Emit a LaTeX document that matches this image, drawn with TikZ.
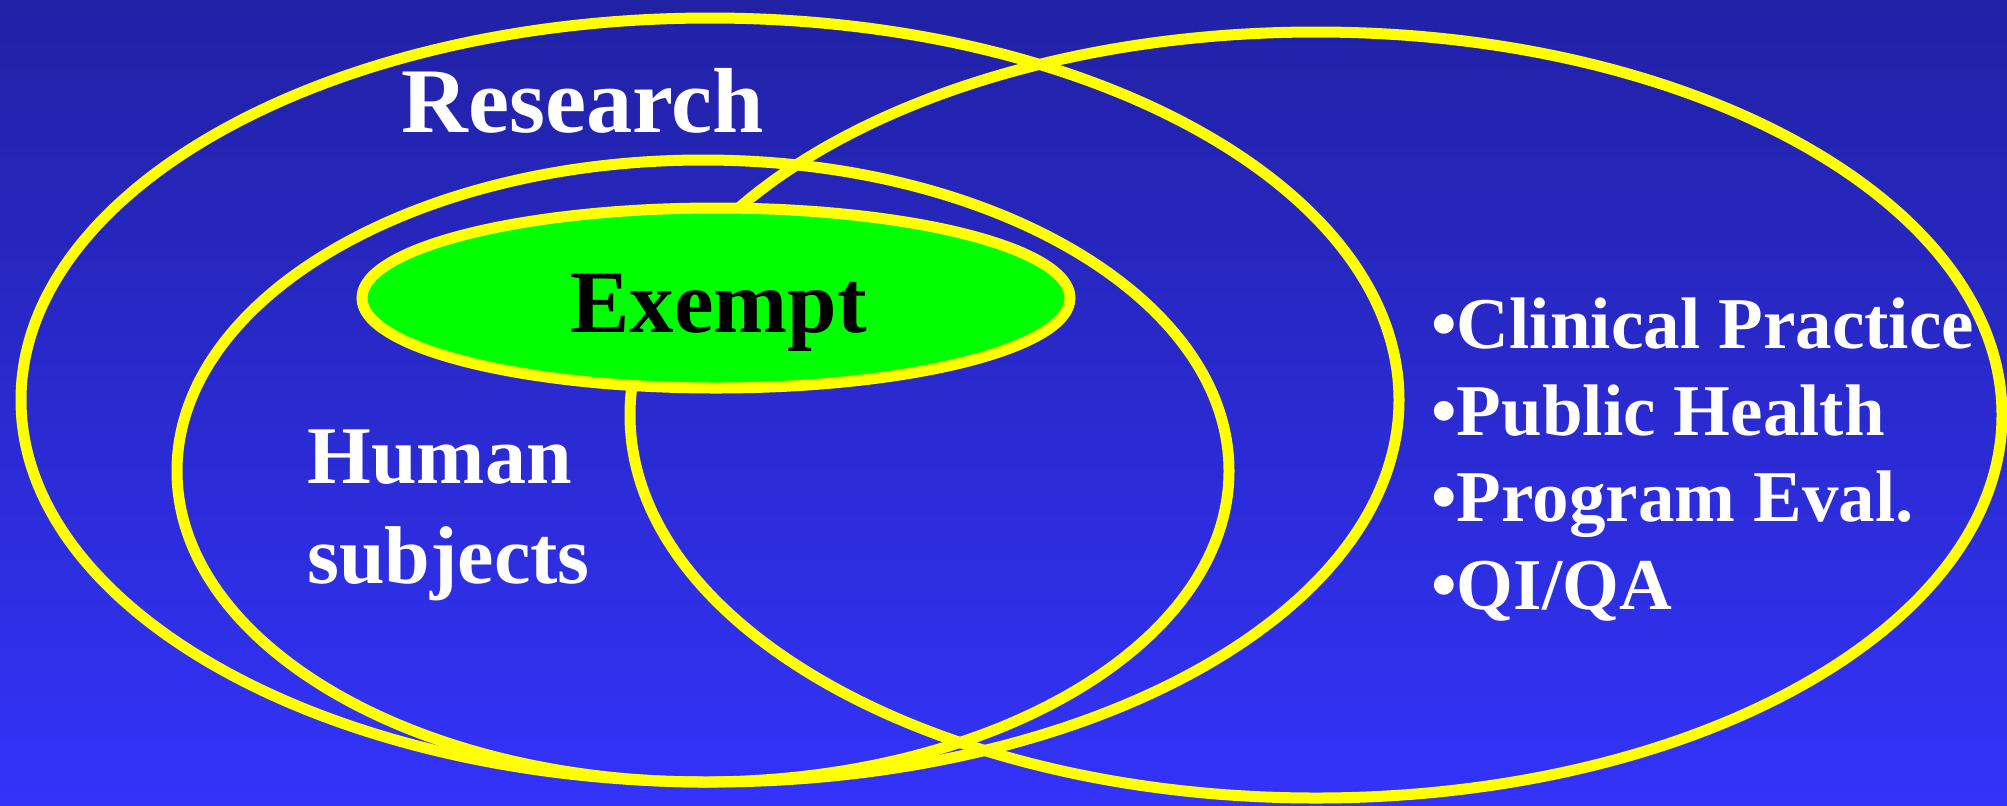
\documentclass[tikz,border=0pt]{standalone}
\usepackage{fontspec}
\setmainfont{Liberation Serif}
\usetikzlibrary{shapes.geometric}
\definecolor{bgtop}{RGB}{33,33,165}
\definecolor{bgbot}{RGB}{51,51,250}
\definecolor{vennyellow}{RGB}{255,255,0}
\definecolor{exemptgreen}{RGB}{0,255,0}
\tikzset{
  venn/.style={ellipse, draw=vennyellow, line width=5.5pt, inner sep=0pt, outer sep=0pt},
  lbl/.style={anchor=base west, inner sep=0pt, text=white},
}
\begin{document}
\begin{tikzpicture}[x=0.5pt,y=-0.5pt]
\shade[top color=bgtop, bottom color=bgbot] (0,0) rectangle (2007,805);
\useasboundingbox (0,0) rectangle (2007,805);
\node[venn, minimum width=689pt, minimum height=382pt] (research) at (710,400) {};
\node[venn, minimum width=526pt, minimum height=311pt] (human) at (703,471) {};
\node[venn, minimum width=686pt, minimum height=383pt] (other) at (1316,415) {};
\node[venn, fill=exemptgreen, minimum width=354pt, minimum height=90pt] (exempt) at (716,298) {};
\node[lbl, font=\fontsize{46.2}{55}\selectfont\bfseries] (tresearch) at (401,132) {Research};
\node[lbl, text=black, font=\fontsize{44.5}{53}\selectfont\bfseries] (texempt) at (570,332) {Exempt};
\node[lbl, font=\fontsize{41}{50}\selectfont\bfseries] (thuman) at (307,483) {Human};
\node[lbl, font=\fontsize{41}{50}\selectfont\bfseries] (tsubjects) at (307,583) {subjects};
\node[lbl, font=\fontsize{36.5}{44}\selectfont\bfseries] (l1) at (1431,348) {•Clinical Practice};
\node[lbl, font=\fontsize{36.5}{44}\selectfont\bfseries] (l2) at (1431,435) {•Public Health};
\node[lbl, font=\fontsize{36.5}{44}\selectfont\bfseries] (l3) at (1431,521) {•Program Eval.};
\node[lbl, font=\fontsize{36.5}{44}\selectfont\bfseries] (l4) at (1431,609) {•QI/QA};
\end{tikzpicture}
\end{document}
